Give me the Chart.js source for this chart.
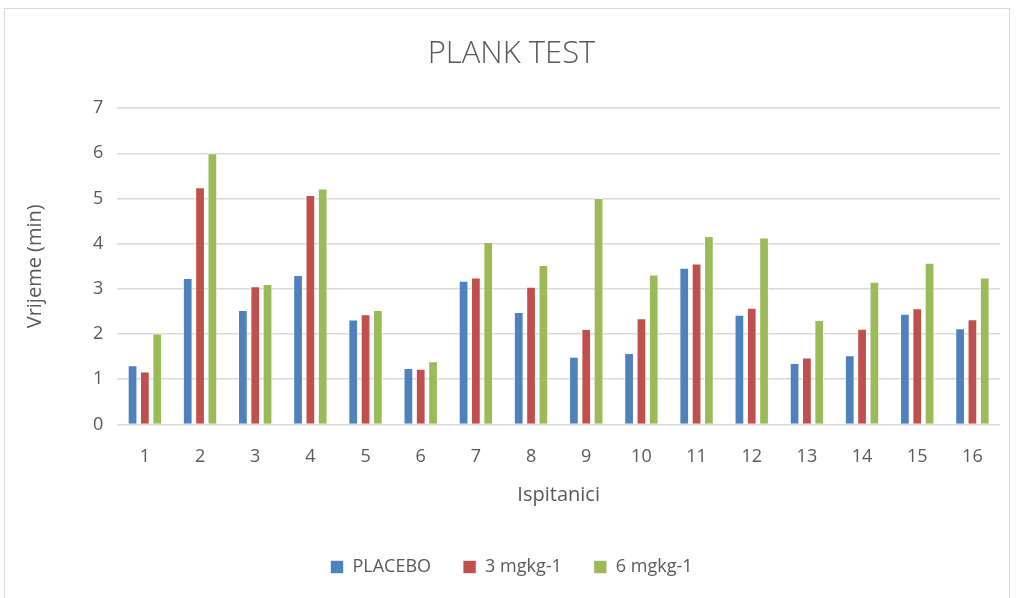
<!DOCTYPE html>
<html>
<head>
<meta charset="utf-8">
<script src="https://cdn.jsdelivr.net/npm/chart.js@4.4.0/dist/chart.umd.min.js"></script>
<style>
  html, body { margin: 0; padding: 0; background: #fff; }
  #wrap { position: relative; width: 1016px; height: 598px; }
</style>
</head>
<body>
<div id="wrap"><canvas id="plank"></canvas></div>
<script>
var subjects = ['1','2','3','4','5','6','7','8','9','10','11','12','13','14','15','16'];
var placebo = [1.31, 3.24, 2.53, 3.31, 2.32, 1.25, 3.18, 2.49, 1.50, 1.58, 3.47, 2.43, 1.36, 1.53, 2.45, 2.13];
var dose3 = [1.17, 5.25, 3.06, 5.08, 2.44, 1.23, 3.25, 3.05, 2.11, 2.35, 3.56, 2.58, 1.48, 2.12, 2.57, 2.33];
var dose6 = [2.01, 6.00, 3.11, 5.22, 2.53, 1.40, 4.04, 3.53, 5.01, 3.32, 4.17, 4.14, 2.31, 3.16, 3.58, 3.25];
var yTicks = [0, 1, 2, 3, 4, 5, 6, 7];

var textColor = '#595959';
var fontFamily = '"Open Sans", "Noto Sans", sans-serif';

// light grey frame around the whole chart, like the office chart area
var frame = {
    id: 'frame',
    beforeDraw: function(chart) {
        var ctx = chart.ctx;
        ctx.save();
        ctx.strokeStyle = '#d9d9d9';
        ctx.lineWidth = 1;
        ctx.strokeRect(4.5, 8.5, 1005, 595);
        ctx.restore();
    }
};

function ds(label, data, color) {
    return {
        label: label,
        data: data,
        backgroundColor: color,
        borderColor: 'rgba(255,255,255,0.6)',
        borderWidth: 1,
        categoryPercentage: 0.67,
        barPercentage: 0.79
    };
}

new Chart(document.getElementById('plank'), {
    type: 'bar',
    data: {
        labels: subjects,
        datasets: [
            ds('PLACEBO', placebo, '#4f81bd'),
            ds('3 mgkg-1', dose3, '#c0504d'),
            ds('6 mgkg-1', dose6, '#9bbb59')
        ]
    },
    options: {
        responsive: true,
        maintainAspectRatio: false,
        animation: false,
        layout: { padding: { left: 23, right: 16, top: 22, bottom: 12 } },
        plugins: {
            title: {
                display: true,
                text: 'PLANK TEST',
                color: textColor,
                font: { family: fontFamily, size: 31, weight: '300' },
                padding: { top: 14, bottom: 35 }
            },
            legend: {
                position: 'bottom',
                labels: {
                    color: textColor,
                    font: { family: fontFamily, size: 18 },
                    boxWidth: 13,
                    boxHeight: 13,
                    padding: 32
                }
            },
            tooltip: { enabled: false }
        },
        scales: {
            x: {
                grid: { display: false },
                border: { display: false },
                ticks: { color: textColor, font: { family: fontFamily, size: 18 }, padding: 14 },
                title: {
                    display: true,
                    text: 'Ispitanici',
                    color: textColor,
                    font: { family: fontFamily, size: 20 },
                    padding: { top: 1, bottom: 19 }
                }
            },
            y: {
                min: yTicks[0],
                max: yTicks[yTicks.length - 1],
                afterBuildTicks: function(axis) {
                    axis.ticks = yTicks.map(function(v) { return { value: v }; });
                },
                grid: { color: '#d9d9d9', lineWidth: 1.5, drawTicks: false },
                border: { display: false },
                ticks: { color: textColor, font: { family: fontFamily, size: 18 }, padding: 14 },
                title: {
                    display: true,
                    text: 'Vrijeme (min)',
                    color: textColor,
                    font: { family: fontFamily, size: 20 },
                    padding: { top: 0, bottom: 32 }
                }
            }
        }
    },
    plugins: [frame]
});
</script>
</body>
</html>
